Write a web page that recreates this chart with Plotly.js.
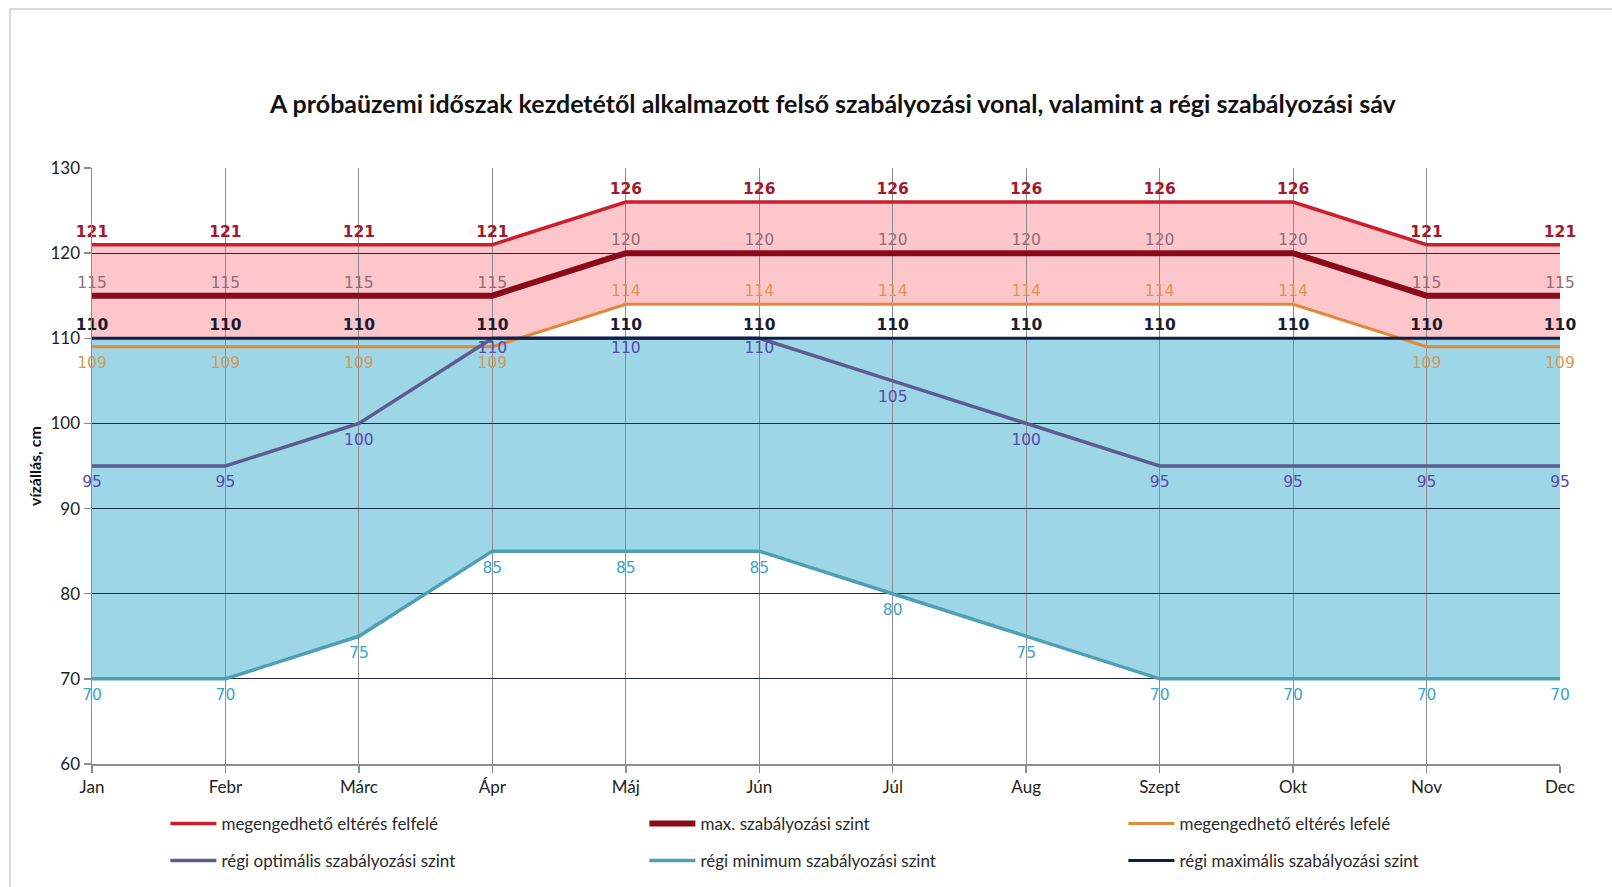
<!DOCTYPE html>
<html>
<head>
<meta charset="utf-8">
<script src="https://cdn.plot.ly/plotly-3.0.1.min.js"></script>
<style>
  html, body { margin: 0; padding: 0; background: #ffffff; }
  #chart { width: 1612px; height: 887px; }
</style>
</head>
<body>
<div id="chart"></div>
<script>
// Hónapok és szabályozási szintek (cm)
const months = ['Jan', 'Febr', 'Márc', 'Ápr', 'Máj', 'Jún', 'Júl', 'Aug', 'Szept', 'Okt', 'Nov', 'Dec'];
const felfele = [121, 121, 121, 121, 126, 126, 126, 126, 126, 126, 121, 121];
const maxSzint = [115, 115, 115, 115, 120, 120, 120, 120, 120, 120, 115, 115];
const lefele = [109, 109, 109, 109, 114, 114, 114, 114, 114, 114, 109, 109];
const regiOptimalis = [95, 95, 100, 110, 110, 110, 105, 100, 95, 95, 95, 95];
const regiMinimum = [70, 70, 75, 85, 85, 85, 80, 75, 70, 70, 70, 70];
const regiMaximalis = [110, 110, 110, 110, 110, 110, 110, 110, 110, 110, 110, 110];
const yTicks = [60, 70, 80, 90, 100, 110, 120, 130];

const seriesNames = [
  'megengedhető eltérés felfelé',
  'max. szabályozási szint',
  'megengedhető eltérés lefelé',
  'régi optimális szabályozási szint',
  'régi minimum szabályozási szint',
  'régi maximális szabályozási szint'
];

const labelFont = 'DejaVu Sans, Verdana, sans-serif';
const textFont = 'Lato, Open Sans, sans-serif';

// Sávok (alsó réteg): rózsaszín az eltérési sáv, kék a régi szabályozási sáv
const bandBase = { type: 'scatter', mode: 'lines', x: months, xaxis: 'x', yaxis: 'y',
                   line: { width: 0 }, hoverinfo: 'skip', showlegend: false };
const bands = [
  Object.assign({}, bandBase, { y: lefele }),
  Object.assign({}, bandBase, { y: felfele, fill: 'tonexty', fillcolor: '#fcc6cb' }),
  Object.assign({}, bandBase, { y: regiMinimum }),
  Object.assign({}, bandBase, { y: regiMaximalis, fill: 'tonexty', fillcolor: '#9dd6e6' })
];

// Címkék a vonal fölött vagy alatt; a láthatatlan jelölő mérete adja a távolságot
const above = 'top center';
const below = 'bottom center';
const gapAbove = 5;
const gapBelow = 14;
const clear = 'rgba(0,0,0,0)';

function lineTrace(name, values, color, width, labelColor, positions, gaps, bold, legendId) {
  const posArr = Array.isArray(positions) ? positions : values.map(() => positions);
  const gapArr = gaps || posArr.map(p => p === above ? gapAbove : gapBelow);
  return {
    type: 'scatter', mode: 'lines+markers+text', name: name,
    x: months, y: values, xaxis: 'x2', yaxis: 'y2',
    line: { color: color, width: width },
    marker: { size: gapArr, color: clear, opacity: 0, line: { width: 0, color: clear } },
    text: values.map(String),
    textposition: posArr,
    textfont: { family: labelFont, size: 15.5, color: labelColor, weight: bold ? 'bold' : 'normal' },
    cliponaxis: false,
    legend: legendId
  };
}

const lines = [
  lineTrace(seriesNames[0], felfele, '#cc1f2d', 3.5, '#a3192b', above, null, true, 'legend'),
  lineTrace(seriesNames[1], maxSzint, '#8a0a1c', 6, '#8f6c7a', above, null, false, 'legend'),
  lineTrace(seriesNames[2], lefele, '#e2883a', 3, '#d8984f',
            lefele.map((v, i) => v > regiMaximalis[i] ? above : below), null, false, 'legend'),
  lineTrace(seriesNames[3], regiOptimalis, '#5d5b8f', 3.5, '#5a48aa', below,
            regiOptimalis.map((v, i) => v >= regiMaximalis[i] ? 4 : gapBelow), false, 'legend2'),
  lineTrace(seriesNames[4], regiMinimum, '#4e9fb3', 3.5, '#3aa6c9', below, null, false, 'legend2'),
  lineTrace(seriesNames[5], regiMaximalis, '#0f1f45', 3, '#1a1c30', above, null, true, 'legend2')
];

const legendBase = {
  orientation: 'h', traceorder: 'normal',
  x: 0.05, xanchor: 'left', yref: 'container', yanchor: 'middle',
  itemwidth: 46, entrywidth: 418, entrywidthmode: 'pixels',
  font: { family: textFont, size: 17, color: '#2a2a2a' },
  bgcolor: 'rgba(0,0,0,0)', borderwidth: 0
};

// Diagram kerete (bal és felső él)
const fx0 = (10 - 92) / 1468, fx1 = (1612 - 92) / 1468;
const fy0 = (764 - 887) / 596, fy1 = (764 - 9) / 596;

const layout = {
  width: 1612, height: 887,
  paper_bgcolor: '#ffffff', plot_bgcolor: 'rgba(0,0,0,0)',
  margin: { l: 92, r: 52, t: 168, b: 123 },
  title: {
    text: 'A próbaüzemi időszak kezdetétől alkalmazott felső szabályozási vonal, valamint a régi szabályozási sáv',
    font: { family: textFont, size: 25, color: '#111111', weight: 'bold' },
    xref: 'container', x: 0.5167, xanchor: 'center',
    yref: 'container', y: 1 - 104 / 887, yanchor: 'middle'
  },
  showlegend: true,
  xaxis: { type: 'category', range: [0, 11], visible: false, fixedrange: true },
  yaxis: { range: [60, 130], visible: false, fixedrange: true },
  xaxis2: {
    type: 'category', anchor: 'y2', range: [0, 11], fixedrange: true,
    showgrid: true, gridcolor: '#8c8c8c', gridwidth: 1,
    showline: true, linecolor: '#8c8c8c', linewidth: 1.5,
    ticks: 'outside', ticklen: 7, tickcolor: '#8c8c8c', tickwidth: 1.5,
    tickfont: { family: textFont, size: 17, color: '#222222' }
  },
  yaxis2: {
    anchor: 'x2', range: [60, 130], tickvals: yTicks, fixedrange: true,
    showgrid: true, gridcolor: '#1d2c4a', gridwidth: 1,
    showline: true, linecolor: '#8c8c8c', linewidth: 1.5,
    ticks: 'outside', ticklen: 7, tickcolor: '#8c8c8c', tickwidth: 1.5,
    tickfont: { family: textFont, size: 17, color: '#222222' }
  },
  annotations: [{
    text: 'vízállás, cm', textangle: -90, showarrow: false,
    xref: 'paper', x: (34 - 92) / 1468, xanchor: 'center',
    yref: 'paper', y: 0.5, yanchor: 'middle',
    font: { family: textFont, size: 16, color: '#111111', weight: 'bold' }
  }],
  legend: Object.assign({}, legendBase, { y: 1 - 824 / 887 }),
  legend2: Object.assign({}, legendBase, { y: 1 - 861 / 887 }),
  shapes: [{
    type: 'path', xref: 'paper', yref: 'paper', layer: 'below',
    path: 'M' + fx1 + ',' + fy1 + ' L' + fx0 + ',' + fy1 + ' L' + fx0 + ',' + fy0,
    line: { color: '#b5b5b5', width: 1 }
  }]
};

Plotly.newPlot('chart', bands.concat(lines), layout, { displayModeBar: false, staticPlot: true });
</script>
</body>
</html>
